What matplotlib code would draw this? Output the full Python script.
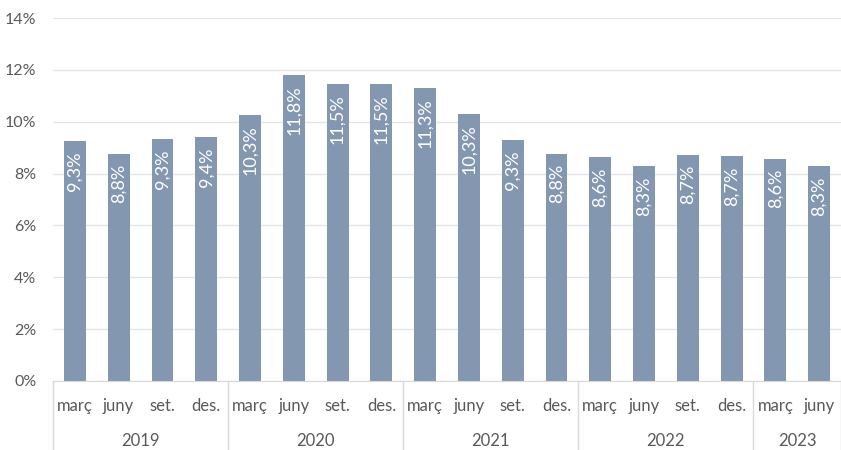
import matplotlib.pyplot as plt
import matplotlib.transforms as mtransforms

plt.rcParams['font.family'] = ['Lato', 'DejaVu Sans']

# dades
months = ["març", "juny", "set.", "des.",
          "març", "juny", "set.", "des.",
          "març", "juny", "set.", "des.",
          "març", "juny", "set.", "des.",
          "març", "juny"]
years = ["2019", "2020", "2021", "2022", "2023"]
year_sizes = [4, 4, 4, 4, 2]
values = [9.27, 8.76, 9.33, 9.42, 10.27, 11.79, 11.47, 11.47, 11.31,
          10.29, 9.29, 8.76, 8.62, 8.29, 8.73, 8.67, 8.58, 8.29]

grey = "#595959"
bar_color = "#8497B0"

fig = plt.figure(figsize=(8.41, 4.5), dpi=100)
ax = fig.add_axes([53 / 841, 1 - 381 / 450, 1 - 53 / 841, 363 / 450])

x = list(range(len(values)))
bars = ax.bar(x, values, width=0.5, color=bar_color, zorder=2)

# etiquetes dins de les barres
for bar, v in zip(bars, values):
    txt = f"{v:.1f}".replace(".", ",") + "%"
    ax.text(bar.get_x() + bar.get_width() / 2, v - 0.4, txt,
            rotation=90, ha="center", va="top", color="white", fontsize=13)

ax.set_xlim(-0.5, len(values) - 0.5)
ax.set_ylim(0, 14)
ax.set_yticks(range(0, 15, 2))
ax.set_yticklabels([f"{t}%" for t in range(0, 15, 2)], color=grey, fontsize=11.5)
ax.yaxis.grid(True, color="#E5E5E5", linewidth=1, zorder=0)
ax.tick_params(axis="y", length=0, pad=12)
ax.tick_params(axis="x", length=0, pad=12)
ax.set_xticks(x)
ax.set_xticklabels(months, color=grey, fontsize=12)
for s in ["top", "right", "left"]:
    ax.spines[s].set_visible(False)
ax.spines["bottom"].set_color("#D9D9D9")

# segon nivell: anys i separadors
trans = mtransforms.blended_transform_factory(ax.transData, ax.transAxes)
start = 0
ax.plot([-0.5, -0.5], [0, -0.2], color="#D9D9D9", lw=1, transform=trans, clip_on=False)
for yr, n in zip(years, year_sizes):
    center = start + (n - 1) / 2
    ax.text(center, -0.165, yr, ha="center", va="center", color=grey,
            fontsize=12, transform=trans)
    end = start + n - 0.5
    ax.plot([end, end], [0, -0.2], color="#D9D9D9", lw=1, transform=trans, clip_on=False)
    start += n

fig.savefig("out.png", dpi=100)
